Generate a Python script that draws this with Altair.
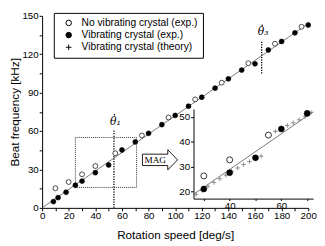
import altair as alt
import pandas as pd

# ---------------- data ----------------
series_names = ["No vibrating crystal (exp.)", "Vibrating crystal (exp.)", "Vibrating crystal (theory)"]

open_x = [10, 20, 30, 40, 55, 75, 95, 115, 135, 155, 175, 195]
open_y = [15.3, 20.2, 26.2, 32.7, 42.7, 56.5, 70.6, 84.7, 97.8, 113.0, 128.2, 141.5]

filled_x = [8.5, 12, 18, 25, 30, 40, 50, 60, 70, 80, 90, 100, 110, 120, 130, 140, 150, 160, 170, 180, 190, 200]
filled_y = [4.9, 8.0, 12.2, 17.7, 20.9, 27.5, 33.5, 45.2, 51.5, 58.2, 65.0, 72.2, 79.4, 86.4, 93.5,
            100.8, 107.6, 112.5, 123.3, 130.0, 136.7, 142.8]

theory_x = [27.0, 29.3, 31.6, 33.9, 36.2, 38.5, 40.8, 43.1, 45.4, 47.7, 50.0, 52.2,
            55.4, 57.7, 60.0, 62.3, 64.6, 66.9, 69.2, 71.5]
theory_y = [18.7, 20.3, 22.0, 23.5, 25.0, 26.5, 28.0, 29.4, 30.8, 32.0, 33.2, 34.2,
            42.6, 44.2, 45.4, 46.6, 47.7, 48.9, 50.3, 51.9]

fit_x = [0, 200]
fit_y = [0, 144]
inset_fit_x = [26, 72.3]
inset_fit_y = [18.7, 52.1]

box_x = [25, 71]
box_y = [16, 55]

theta_labels = ["θ₁", "θ₃"]
theta_x = [54, 165]
theta_y0 = [0, 105]
theta_y1 = [61, 130.6]
theta_label_y = [67, 137]

mag_label = ["MAG"]
mag_x = [88.6]
mag_y = [37.5]
mag_text_x = [85]

x_ticks = list(range(0, 201, 10))
y_ticks = list(range(0, 151, 15))
inset_x_ticks = [30, 40, 50, 60, 70]
inset_y_ticks = [20, 30, 40, 50]

main_x_domain = [0, 200]
main_y_domain = [0, 150]
inset_x_domain = [26, 72.3]
inset_y_domain = [17, 53.3]

# ---------------- layout ----------------
W, H = 273, 197
IL, IR, IB, IT = 155.3, 278.0, 187.5, 95.5   # inset position inside plot area (px)

FONT = "Liberation Sans"
SERIF = "DejaVu Serif"
MAGFONT = "Liberation Serif"
PLUS = "M-1,0L1,0M0,-1L0,1"
ARROW = "M-1,-0.325L0.444,-0.325L0.444,-0.575L1,0L0.444,0.575L0.444,0.325L-1,0.325Z"

pts = pd.DataFrame({
    "x": open_x + filled_x,
    "y": open_y + filled_y,
    "series": [series_names[0]] * len(open_x) + [series_names[1]] * len(filled_x),
})
theory = pd.DataFrame({"x": theory_x, "y": theory_y})
fit = pd.DataFrame({"x": fit_x, "y": fit_y})
ifit = pd.DataFrame({"x": inset_fit_x, "y": inset_fit_y})
box = pd.DataFrame({"x": [box_x[0]], "x2": [box_x[1]], "y": [box_y[0]], "y2": [box_y[1]]})
thetas = pd.DataFrame({"x": theta_x, "y": theta_y0, "y2": theta_y1, "ly": theta_label_y,
                       "lbl": theta_labels})
mag = pd.DataFrame({"x": mag_x, "tx": mag_text_x, "y": mag_y, "t": mag_label})

def xs():
    return alt.Scale(domain=main_x_domain, nice=False, zero=False)

def ys():
    return alt.Scale(domain=main_y_domain, nice=False, zero=False)

def xs_in():
    return alt.Scale(domain=inset_x_domain, range=[IL, IR], nice=False, zero=False)

def ys_in():
    return alt.Scale(domain=inset_y_domain, range=[IB, IT], nice=False, zero=False)

axis_common = dict(grid=False, tickColor="black", domainColor="black", labelColor="black",
                   titleColor="black", labelFont=FONT, titleFont=FONT, labelFontSize=10,
                   titleFontSize=12, titleFontWeight="normal", labelFlush=False,
                   labelOverlap=False, domainWidth=1, tickWidth=1)

main_x_axis = alt.Axis(orient="bottom", values=x_ticks,
                       labelExpr="datum.value % 20 == 0 ? datum.label : ''",
                       tickSize=3, labelPadding=0, titlePadding=9, **axis_common)
main_y_axis = alt.Axis(orient="left", values=y_ticks,
                       labelExpr="datum.value % 30 == 0 ? datum.label : ''",
                       tickSize=3, labelPadding=1, titlePadding=1, **axis_common)
inset_x_axis = alt.Axis(orient="bottom", offset=-(H - IB), values=inset_x_ticks,
                        labelExpr="datum.value % 20 == 0 ? datum.label : ''",
                        tickSize=2, labelPadding=0, **axis_common)
inset_y_axis = alt.Axis(orient="left", offset=-IL, values=inset_y_ticks,
                        tickSize=3, labelPadding=1, **axis_common)

legend = alt.Legend(title=None, orient="none", legendX=12, legendY=-3, strokeColor="black",
                    padding=5, labelFont=FONT, labelFontSize=10.5, labelColor="black",
                    symbolSize=32, symbolStrokeWidth=1, symbolOffset=5, labelOffset=8,
                    rowPadding=1.5, fillColor="white", cornerRadius=0)

def mx(field="x"):
    return alt.X(f"{field}:Q", scale=xs(), axis=None)

def my(field="y"):
    return alt.Y(f"{field}:Q", scale=ys(), axis=None)

def ix(field="x"):
    return alt.X(f"{field}:Q", scale=xs_in(), axis=None)

def iy(field="y"):
    return alt.Y(f"{field}:Q", scale=ys_in(), axis=None)

# ---------------- main plot ----------------
fit_line = alt.Chart(fit).mark_line(color="#555555", strokeWidth=0.8).encode(
    x=alt.X("x:Q", scale=xs(), axis=main_x_axis, title="Rotation speed [deg/s]"),
    y=alt.Y("y:Q", scale=ys(), axis=main_y_axis, title="Beat frequency [kHz]"),
)
box_mark = alt.Chart(box).mark_rect(fillOpacity=0, stroke="#333333", strokeWidth=1,
                                    strokeDash=[1, 1]).encode(x=mx(), x2="x2", y=my(), y2="y2")
theta_rules = alt.Chart(thetas).mark_rule(color="black", strokeWidth=1.3,
                                          strokeDash=[1.3, 1.3]).encode(x=mx(), y=my(), y2="y2")
theta_txt = alt.Chart(thetas).mark_text(font=SERIF, fontStyle="italic", fontSize=11,
                                        color="black", align="left", dx=-4).encode(
    x=mx(), y=my("ly"), text="lbl:N")
theta_dot = alt.Chart(thetas).mark_point(shape="circle", size=2.5, filled=True, color="black",
                                         opacity=1, xOffset=0.5, yOffset=-7.5).encode(
    x=mx(), y=my("ly"))
arrow = alt.Chart(mag).mark_point(shape=ARROW, size=1296, filled=True, fill="white",
                                  stroke="black", strokeWidth=0.9, opacity=1).encode(x=mx(), y=my())
mag_txt = alt.Chart(mag).mark_text(font=MAGFONT, fontSize=9.5, color="black").encode(
    x=mx("tx"), y=my(), text="t:N")
main_points = alt.Chart(pts).mark_point(size=25, strokeWidth=0.7, opacity=1).encode(
    x=mx(), y=my(),
    shape=alt.Shape("series:N", scale=alt.Scale(domain=series_names, range=["circle", "circle", PLUS]),
                    legend=legend),
    fill=alt.Fill("series:N", scale=alt.Scale(domain=series_names, range=["white", "black", "transparent"]),
                  legend=legend),
    stroke=alt.Stroke("series:N", scale=alt.Scale(domain=series_names, range=["black", "black", "black"]),
                      legend=legend),
)

# ---------------- inset ----------------
in_filter = (alt.datum.x >= inset_x_domain[0]) & (alt.datum.x <= inset_x_domain[1])
inset_line = alt.Chart(ifit).mark_line(color="#555555", strokeWidth=0.8).encode(
    x=alt.X("x:Q", scale=xs_in(), axis=inset_x_axis, title=None),
    y=alt.Y("y:Q", scale=ys_in(), axis=inset_y_axis, title=None),
)
inset_theory = alt.Chart(theory).mark_point(shape=PLUS, size=22, stroke="#777777", strokeWidth=0.8,
                                            opacity=1).encode(x=ix(), y=iy())
inset_open = alt.Chart(pts).transform_filter(in_filter).transform_filter(
    alt.datum.series == series_names[0]).mark_point(
    shape="circle", size=38, fill="white", filled=True, stroke="black", strokeWidth=0.8,
    opacity=1).encode(x=ix(), y=iy())
inset_filled = alt.Chart(pts).transform_filter(in_filter).transform_filter(
    alt.datum.series == series_names[1]).mark_point(
    shape="circle", size=38, fill="black", filled=True, stroke="black", strokeWidth=0.5,
    opacity=1).encode(x=ix(), y=iy())

chart = alt.layer(
    fit_line, box_mark, theta_rules, theta_txt, theta_dot, arrow, mag_txt, main_points,
    inset_line, inset_theory, inset_open, inset_filled,
).resolve_scale(x="independent", y="independent").properties(
    width=W, height=H, padding={"left": 0, "top": 0, "right": 0, "bottom": 0}
).configure_view(strokeWidth=0)

chart.save("out.html", embed_options={"renderer": "svg", "actions": False})
